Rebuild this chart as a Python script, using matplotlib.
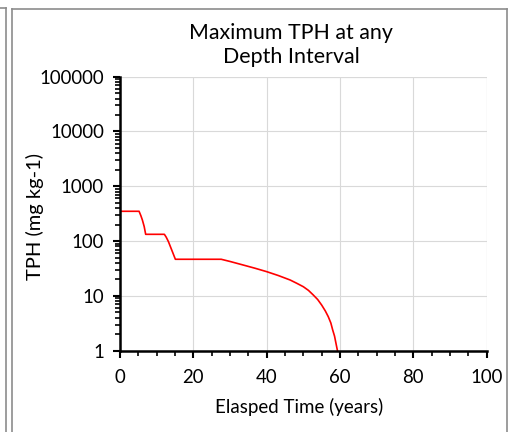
import matplotlib
matplotlib.use("Agg")
import matplotlib.pyplot as plt
from matplotlib.lines import Line2D
from matplotlib.ticker import LogLocator, FixedLocator, NullFormatter

plt.rcParams['font.family'] = ['Lato', 'DejaVu Sans']

# Data
years = [0, 5.2, 5.7, 6.1, 6.6, 7.0, 12.1, 12.6, 13.2, 14.1, 15.1, 27.6,
         30.0, 33.6, 36.8, 40.0, 43.2, 46.4, 48.2, 50.0, 51.4, 52.7, 53.9,
         55.0, 56.0, 56.8, 57.5, 58.0, 58.5, 58.9, 59.3]
tph = [350, 350, 290, 243, 184, 133, 133, 118, 98, 69, 46.6, 46.6,
       42.5, 36.6, 32.0, 27.7, 23.5, 19.5, 17.0, 14.7, 12.6, 10.4, 8.6,
       6.8, 5.3, 4.17, 3.2, 2.39, 1.85, 1.36, 1.0]

title = "Maximum TPH at any\nDepth Interval"
xlabel = "Elasped Time (years)"
ylabel = "TPH (mg kg-1)"
xticks = [0, 20, 40, 60, 80, 100]
yticks = [1, 10, 100, 1000, 10000, 100000]
ytick_labels = ["1", "10", "100", "1000", "10000", "100000"]

W, H = 515, 432
fig = plt.figure(figsize=(W / 100, H / 100), dpi=100)
ax = fig.add_axes([120 / W, 1 - 350.7 / H, (486.7 - 120) / W, (350.7 - 76.7) / H])

ax.plot(years, tph, color='#ff0000', linewidth=1.2, clip_on=True)
ax.set_yscale('log')
ax.set_xlim(0, 100)
ax.set_ylim(1, 100000)

ax.set_xticks(xticks)
ax.set_xticklabels([str(t) for t in xticks])
ax.xaxis.set_minor_locator(FixedLocator([v for v in range(5, 100, 5) if v % 20 != 0]))
ax.set_yticks(yticks)
ax.set_yticklabels(ytick_labels)
ax.yaxis.set_minor_locator(LogLocator(base=10, subs=range(2, 10), numticks=20))
ax.yaxis.set_minor_formatter(NullFormatter())

ax.tick_params(axis='both', which='major', direction='out', length=5, width=1.5,
               labelsize=13.4, color='black', labelcolor='black')
ax.tick_params(axis='x', which='major', pad=8)
ax.tick_params(axis='y', which='major', pad=6.5)
ax.tick_params(axis='both', which='minor', direction='out', length=3.5, width=1.2,
               color='black')

ax.grid(True, which='major', color='#d9d9d9', linewidth=0.8)
ax.set_axisbelow(True)
for s in ['top', 'right']:
    ax.spines[s].set_visible(False)
for s in ['left', 'bottom']:
    ax.spines[s].set_linewidth(1.8)
    ax.spines[s].set_color('black')
    ax.spines[s].set_zorder(5)

ax.axhline(100000, color='#d9d9d9', linewidth=0.8, zorder=0)
ax.axvline(100, color='#d9d9d9', linewidth=0.8, zorder=0)

fig.text(291 / W, 1 - 45 / H, title, ha='center', va='center', fontsize=15.4,
         linespacing=1.3)
fig.text(299 / W, 1 - 407 / H, xlabel, ha='center', va='center', fontsize=13.5)
fig.text(35 / W, 1 - 217 / H, ylabel, ha='center', va='center', fontsize=14.5,
         rotation=90)

gray = '#8c8c8c'
def fl(x0, y0, x1, y1):
    fig.add_artist(Line2D([x0 / W, x1 / W], [1 - y0 / H, 1 - y1 / H],
                          color=gray, linewidth=1.2))
fl(0, 8, 6, 8)
fl(6, 8, 6, 432)
fl(12, 9, 507, 9)
fl(12, 9, 12, 432)
fl(507, 9, 507, 432)

fig.savefig('out.png', dpi=100, facecolor='white')
